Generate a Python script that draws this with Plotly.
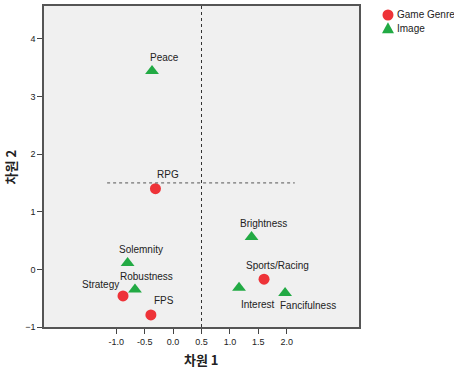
import plotly.graph_objects as go

genre_names = ["RPG", "Strategy", "FPS", "Sports/Racing"]
genre_x = [-0.31, -0.88, -0.39, 1.60]
genre_y = [1.40, -0.46, -0.79, -0.17]

image_names = ["Peace", "Brightness", "Solemnity", "Robustness", "Interest", "Fancifulness"]
image_x = [-0.37, 1.38, -0.80, -0.67, 1.16, 1.97]
image_y = [3.44, 0.56, 0.11, -0.35, -0.32, -0.41]

x_ticks = [-1.0, -0.5, 0.0, 0.5, 1.0, 1.5, 2.0]
y_ticks = [-1, 0, 1, 2, 3, 4]

legend_names = ["Game Genre", "Image"]

# label offsets in pixels (xshift, yshift)
label_offsets = {
    "RPG": (13, 14), "Strategy": (-23, 11), "FPS": (13, 14), "Sports/Racing": (13, 14),
    "Peace": (12, 14), "Brightness": (12, 14), "Solemnity": (13, 14),
    "Robustness": (12, 13), "Interest": (19, -17), "Fancifulness": (23, -12),
}

RED = "#ee3338"
GREEN = "#22aa44"
FONT = "Liberation Sans, Arial, sans-serif"
KFONT = "Noto Sans CJK KR"

fig = go.Figure()
fig.add_trace(go.Scatter(x=genre_x, y=genre_y, mode="markers", name=legend_names[0],
                         marker=dict(symbol="circle", size=11, color=RED, line=dict(width=0)),
                         hoverinfo="text", text=genre_names, showlegend=False))
fig.add_trace(go.Scatter(x=image_x, y=image_y, mode="markers", name=legend_names[1],
                         marker=dict(symbol="triangle-up", size=12, color=GREEN, line=dict(width=0)),
                         hoverinfo="text", text=image_names, showlegend=False))

for names, xs, ys in [(genre_names, genre_x, genre_y), (image_names, image_x, image_y)]:
    for n, xv, yv in zip(names, xs, ys):
        dx, dy = label_offsets[n]
        fig.add_annotation(x=xv, y=yv, text=n, showarrow=False, xshift=dx, yshift=dy,
                           font=dict(family=FONT, size=10, color="#222222"))

# axis titles
fig.add_annotation(xref="paper", yref="paper", x=0.5, y=-0.066, yanchor="top", showarrow=False,
                   text="<b>차원 1</b>", font=dict(family=KFONT, size=13, color="#222222"))
fig.add_annotation(xref="paper", yref="paper", x=-0.105, y=0.5, xanchor="center", showarrow=False,
                   textangle=-90, text="<b>차원 2</b>", font=dict(family=KFONT, size=13, color="#222222"))

# manual legend (symbols + names)
leg_x = 1.092
leg_y = [0.972, 0.931]
fig.add_shape(type="circle", xref="paper", yref="paper", xsizemode="pixel", ysizemode="pixel",
              xanchor=leg_x, yanchor=leg_y[0], x0=-5.5, x1=5.5, y0=-5.5, y1=5.5,
              fillcolor=RED, line=dict(width=0), layer="above")
fig.add_shape(type="path", xref="paper", yref="paper", xsizemode="pixel", ysizemode="pixel",
              xanchor=leg_x, yanchor=leg_y[1], path="M -6 -5 L 6 -5 L 0 6 Z",
              fillcolor=GREEN, line=dict(width=0), layer="above")
for name, yy in zip(legend_names, leg_y):
    fig.add_annotation(xref="paper", yref="paper", x=1.113, y=yy, xanchor="left", yanchor="middle",
                       showarrow=False, text=name, font=dict(family=FONT, size=10, color="#222222"))

# reference lines
fig.add_shape(type="line", xref="x", yref="paper", x0=0.5, x1=0.5, y0=0, y1=1,
              line=dict(color="#333333", width=1, dash="dot"))
fig.add_shape(type="line", xref="x", yref="y", x0=-1.16, x1=2.14, y0=1.5, y1=1.5,
              line=dict(color="#555555", width=1, dash="dot"))

fig.update_layout(
    width=454, height=369,
    margin=dict(l=44, r=95, t=6, b=42, autoexpand=False),
    paper_bgcolor="white", plot_bgcolor="#f0f0f0",
    font=dict(family=FONT, size=9, color="#222222"),
    showlegend=False,
)
fig.update_xaxes(range=[-2.27, 3.27], tickvals=x_ticks, ticktext=[f"{v:.1f}" for v in x_ticks],
                 ticks="outside", ticklen=5, tickcolor="#444444", showgrid=False, zeroline=False,
                 showline=True, linecolor="#555555", linewidth=1.5, mirror=True, automargin=False)
fig.update_yaxes(range=[-1.0, 4.57], tickvals=y_ticks, ticks="outside", ticklen=5,
                 tickcolor="#444444", showgrid=False, zeroline=False,
                 showline=True, linecolor="#555555", linewidth=1.5, mirror=True, automargin=False)

fig.write_html("out.html", config={"displayModeBar": False},
               post_script="document.body.style.margin='0';document.body.style.padding='0';")
